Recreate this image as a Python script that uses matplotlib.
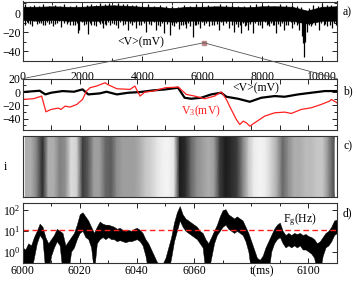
import numpy as np
import matplotlib
matplotlib.use('Agg')
import matplotlib.pyplot as plt
from matplotlib.patches import ConnectionPatch
from matplotlib.ticker import MultipleLocator, NullLocator, FixedLocator

plt.rcParams['font.family'] = 'Liberation Serif'
plt.rcParams['mathtext.fontset'] = 'custom'
plt.rcParams['mathtext.rm'] = 'Liberation Serif'
plt.rcParams['mathtext.it'] = 'Liberation Serif:italic'
plt.rcParams['font.size'] = 8.5

# ---- panel a: mean voltage <V>, whole run (solid band + spikes)
a_t = [0, 500, 1000, 1500, 2000, 2500, 3000, 3500, 4000, 4500, 5000,
       5500, 6000, 6500, 7000, 7500, 8000, 8500, 9000, 9500, 10000, 10500]
a_up = [6.5, 6.5, 7, 6.5, 6.5, 7.5, 8, 7.5, 6.5, 6.5, 5, 6.5, 6.5, 7, 6.5,
        6, 7, 7, 6.5, 2.5, 6.5, 7]
a_lo = [-7, -8, -7, -8, -8, -8, -7, -8, -8, -8, -9, -8, -8, -8, -8, -9,
        -8, -8, -8, -11, -8, -8]
a_dn_t = [83, 200, 305, 470, 620, 750, 900, 1026, 1150, 1300, 1470, 1600,
          1750, 1860, 1900, 2050, 2190, 2300, 2470, 2600, 2690, 2800, 2910,
          3050, 3190, 3350, 3520, 3650, 3800, 3950, 4130, 4300, 4470, 4600,
          4740, 4910, 5050, 5240, 5350, 5460, 5600, 5690, 5800, 5910, 6050,
          6240, 6400, 6570, 6700, 6910, 7070, 7200, 7300, 7420, 7520, 7680,
          7850, 8010, 8150, 8240, 8350, 8460, 8600, 8740, 8880, 9010, 9150,
          9240, 9330, 9370, 9400, 9430, 9500, 9620, 9750, 9900, 10050, 10180,
          10340, 10450]
a_dn_v = [-12.6, -10, -14, -11, -10, -12.6, -11, -13.7, -10, -15, -11, -12,
          -13, -21, -18, -12, -22, -13, -14, -11, -16, -12, -12,
          -11, -16, -13, -18, -12, -16, -12, -19.5, -13, -18, -14,
          -21, -23, -14, -17, -13, -16, -14, -25, -13, -16, -12,
          -14, -12, -18, -13, -16, -19.5, -15, -21, -14, -18, -21,
          -13, -16, -12, -14, -13, -21, -14, -18, -13, -16, -12,
          -18, -24, -31, -46, -30, -20, -14, -13, -18, -12, -14,
          -16, -12]
a_dn2_t = [140, 250, 380, 540, 680, 820, 960, 1090, 1230, 1380, 1530, 1680,
           1810, 1980, 2120, 2240, 2380, 2540, 2650, 2750, 2860, 2980, 3120,
           3270, 3430, 3590, 3720, 3880, 4040, 4210, 4380, 4530, 4670, 4820,
           4980, 5140, 5300, 5410, 5530, 5750, 5860, 5980, 6140, 6320, 6480,
           6640, 6800, 6980, 7130, 7250, 7360, 7470, 7600, 7760, 7930, 8080,
           8200, 8300, 8410, 8530, 8670, 8810, 8950, 9080, 9200, 9560, 9680,
           9820, 9970, 10110, 10260, 10400]
a_dn2_v = [-9, -11, -8, -10, -12, -9, -10, -11, -8, -10, -9, -12, -10, -9,
           -11, -10, -12, -9, -10, -11, -9, -10, -12, -9, -11, -10, -9,
           -12, -10, -11, -9, -12, -10, -11, -13, -10, -12, -11, -10, -12,
           -11, -9, -10, -12, -11, -9, -10, -12, -11, -13, -10, -12, -11,
           -10, -12, -9, -11, -10, -12, -11, -10, -12, -9, -11, -10, -12,
           -11, -9, -10, -11, -12, -10]
a_up_t = [100, 250, 400, 550, 700, 900, 1100, 1250, 1400, 1600, 1800, 2000,
          2150, 2300, 2450, 2600, 2750, 2900, 3050, 3200, 3350, 3500, 3650,
          3800, 4000, 4200, 4400, 4600, 4800, 5000, 5200, 5400, 5600, 5800,
          6000, 6200, 6400, 6600, 6800, 7000, 7200, 7400, 7600, 7800, 8000,
          8200, 8400, 8600, 8800, 9000, 9150, 9300, 9550, 9700, 9850, 10000,
          10150, 10300, 10450]
a_up_v = [9, 7, 8, 7, 9, 7, 8, 7, 9, 7, 8, 7, 8, 9, 8, 10, 9, 10, 8, 10, 9,
          9, 8, 8, 7, 9, 7, 8, 7, 7, 6, 8, 7, 9, 8, 8, 7, 9, 8, 8, 7, 7, 8, 9,
          8, 8, 7, 9, 8, 8, 7, 6, 5, 8, 7, 9, 8, 8, 7]

# ---- panel b: zoom 6000-6110 ms, <V> and V3
b_t = [6000, 6006, 6008, 6010, 6014, 6018, 6021, 6023, 6027, 6029.4, 6033,
       6037, 6041, 6045.7, 6050, 6054.4, 6056.7, 6059, 6062.5, 6066, 6069.5,
       6071.3, 6075.4, 6079.5, 6083.5, 6088.2, 6091.7, 6096.4, 6101, 6105.7,
       6110]
b_mean = [0, 2, -3.5, -1, 1.5, 0.5, 4, -3.5, -2, 0.5, -3.5, -1, 0, 2.5, 4,
          6.5, -8.5, -10, -8.5, -3.5, -1, -7, -10, -14.5, -8.5, -6, -7, -3.5,
          -1, 1.5, 1.5]
v3_t = [6000, 6003.8, 6006.7, 6008.2, 6010, 6012.5, 6013.5, 6014.9, 6016.6,
        6019, 6021, 6022.4, 6023.6, 6025.9, 6028.9, 6029.7, 6033, 6037.6,
        6039.3, 6041.1, 6042.8, 6045.7, 6050, 6054.5, 6057.3, 6060.2, 6063.7,
        6067.2, 6069, 6069.6, 6071.3, 6073, 6074.8, 6076, 6077.2, 6078.3,
        6079.5, 6081.2, 6084.7, 6088.2, 6091.7, 6094, 6097.5, 6101, 6104.5,
        6107.4, 6108, 6110]
v3 = [-11, -10, -6, -29.5, -26, -24, -26, -21, -22.5, -18.5, -11, 1.5, 6.5,
      9, 14, 11.5, 5, 4, 9, -6, 0, 1.5, 6.5, 7.5, -3.5, -6, -10, -6, -1, 0,
      -11, -26, -41, -48.5, -43.5, -46, -51, -46, -36, -31, -30, -32, -26,
      -23.5, -18.5, -13.5, -11, -16]

# ---- panel c: raster density (fraction of black), 2 ms bin centres
c_t = list(range(6001, 6110, 2))
c_dens = [0.45, 0.45, 0.6, 0.9, 0.45, 0.45, 0.6, 0.55, 0.25, 0.3, 0.85, 0.75,
          0.5, 0.5, 0.7, 0.75, 0.55, 0.5, 0.5, 0.5, 0.45, 0.35, 0.3, 0.2,
          0.12, 0.1, 0.2, 0.95, 0.9, 0.7, 0.55, 0.5, 0.45, 0.5, 0.85, 0.95,
          0.9, 0.85, 0.6, 0.35, 0.15, 0.1, 0.15, 0.3, 0.45, 0.7, 0.55, 0.45,
          0.45, 0.4, 0.4, 0.35, 0.35, 0.55, 0.8]

# ---- panel d: global rate F_g, log10(Hz) envelope of noisy trace, 1 ms
d_t = list(range(6000, 6111))
d_up_log = [0.2, 0.1, 0.4, 0.3, 0.7, 1.0, 1.35, 1.2, 0.7, 0.4,
            0.6, 0.8, 1.1, 1.0, 0.9, 0.3, 0.5, 0.7, 0.9, 1.3,
            1.8, 1.9, 1.7, 1.5, 1.2, 0.9, 1.2, 1.45, 1.35, 1.3,
            1.3, 1.25, 1.2, 1.1, 1.15, 1.05, 1.0, 1.05, 1.0, 1.1,
            1.15, 1.05, 0.9, 0.6, 0.4, 0.1, -0.2, -0.5, -0.6, -0.6,
            -0.3, 0.2, 0.7, 1.4, 1.9, 2.2, 1.8, 1.6, 1.5, 1.4,
            1.3, 1.2, 1.0, 0.9, 0.6, 0.4, 0.7, 1.0, 1.3, 1.7,
            2.0, 2.05, 1.8, 1.7, 1.6, 1.7, 1.6, 1.5, 1.2, 0.9,
            0.5, 0.1, -0.3, -0.4, -0.2, 0.2, 0.5, 0.8, 1.1, 1.3,
            1.4, 1.0, 0.8, 0.9, 0.8, 0.9, 0.85, 0.9, 0.8, 0.85,
            0.75, 0.7, 0.6, 0.4, 0.5, 0.7, 0.9, 1.0, 1.2, 1.5,
            1.55]
d_lo_log = [-1, -1, -1, -1, -0.3, 0.4, 0.8, 0.6, -1, -1,
            -0.2, 0.2, 0.5, 0.3, -1, -1, -1, 0.0, 0.2, 0.6,
            0.9, 1.0, 0.7, 0.6, 0.2, -1, 0.4, 0.6, 0.7, 0.6,
            0.7, 0.6, 0.6, 0.5, 0.55, 0.5, 0.45, 0.5, 0.5, 0.55,
            0.6, 0.5, 0.3, -0.2, -1, -1, -1, -1, -1, -1,
            -1, -1, -0.3, 0.5, 1.0, 1.5, 1.2, 1.0, 0.9, 0.8,
            0.7, 0.6, 0.4, 0.2, -1, -1, -0.3, 0.4, 0.8, 1.0,
            1.2, 1.3, 1.1, 1.0, 0.9, 1.0, 0.9, 0.8, 0.5, 0.0,
            -1, -1, -1, -1, -1, -1, -1, 0.0, 0.4, 0.6,
            0.7, 0.4, 0.2, 0.3, 0.2, 0.3, 0.2, 0.3, 0.1, 0.1,
            0.0, -0.1, -0.3, -1, -1, -0.2, 0.2, 0.3, 0.5, 0.8,
            0.9]
f_thresh = 11

W, H = 357, 282
fig = plt.figure(figsize=(W / 100, H / 100), dpi=100)

def box(top, bottom):
    return [22.5 / W, 1 - bottom / H, 314.5 / W, (bottom - top) / H]

def style(ax):
    ax.tick_params(which='both', direction='in', top=True, right=True,
                   width=0.6, pad=1.5, labelsize=8.5)
    ax.tick_params(which='major', length=3.5)
    ax.tick_params(which='minor', length=2)
    for s in ax.spines.values():
        s.set_linewidth(0.8)
        s.set_color('#333333')

ax_a = fig.add_axes(box(1.5, 61))
ax_b = fig.add_axes(box(78.7, 129.5))
ax_c = fig.add_axes(box(136, 197))
ax_d = fig.add_axes(box(202.7, 263))

# a)
ax_a.fill_between(a_t, a_lo, a_up, color='k', lw=0.5)
ax_a.vlines(a_dn_t, 0, a_dn_v, color='k', lw=0.9)
ax_a.vlines(a_dn2_t, 0, a_dn2_v, color='k', lw=0.9)
ax_a.vlines(a_up_t, 0, a_up_v, color='k', lw=0.9)
ax_a.plot([6055], [-31], 's', ms=3, color='#c08888')
ax_a.set_xlim(0, 10500)
ax_a.set_ylim(-50, 12)
ax_a.xaxis.set_major_locator(MultipleLocator(2000))
ax_a.xaxis.set_minor_locator(MultipleLocator(1000))
ax_a.yaxis.set_major_locator(MultipleLocator(20))
ax_a.yaxis.set_minor_locator(MultipleLocator(10))
style(ax_a)
ax_a.tick_params(axis='x', which='major', pad=7)
ax_a.text(3950, -31, '<V>(mV)', ha='center', va='center', fontsize=8.5)

# b)
ax_b.plot(b_t, b_mean, color='k', lw=1.6)
ax_b.plot(v3_t, v3, color='#ff2020', lw=0.9)
ax_b.set_xlim(6000, 6110)
ax_b.set_ylim(-56, 20)
ax_b.xaxis.set_major_locator(MultipleLocator(10))
ax_b.yaxis.set_major_locator(MultipleLocator(20))
ax_b.yaxis.set_minor_locator(MultipleLocator(10))
style(ax_b)
ax_b.tick_params(axis='x', labelbottom=False)
ax_b.text(6081.5, 6, '<V>(mV)', ha='center', va='center', fontsize=8.5)
ax_b.text(6062.4, -28.5, 'V$_3$(mV)', ha='center', va='center',
          fontsize=8.5, color='#ff2020')

# c)
ax_c.pcolormesh(c_t, [0, 1], [c_dens, c_dens], cmap='Greys', vmin=0,
                vmax=1.05, shading='gouraud')
ax_c.set_xlim(6000, 6110)
ax_c.set_ylim(0, 1)
ax_c.set_xticks([])
ax_c.set_yticks([])
for s in ax_c.spines.values():
    s.set_linewidth(0.8)
    s.set_color('#333333')

# d)
d_up = 10 ** np.array(d_up_log)
d_lo = 10 ** np.array(d_lo_log)
ax_d.fill_between(d_t, d_lo, d_up, color='k', lw=0.3)
ax_d.axhline(f_thresh, color='#ff2020', lw=1.0, dashes=(4, 2.5))
ax_d.set_yscale('log')
ax_d.set_xlim(6000, 6110)
ax_d.set_ylim(0.28, 230)
ax_d.yaxis.set_major_locator(FixedLocator([1, 10, 100]))
ax_d.yaxis.set_minor_locator(NullLocator())
ax_d.xaxis.set_minor_locator(MultipleLocator(10))
ax_d.set_xticks([6000, 6020, 6040, 6060, 6100])
style(ax_d)
ax_d.text(6097, 33, 'F$_\\mathrm{g}$(Hz)', ha='center', va='center',
          fontsize=8.5)

# zoom lines from a) to b)
for xb in (6000, 6110):
    con = ConnectionPatch(xyA=(6055, -31), coordsA='data', axesA=ax_a,
                          xyB=(xb, 20), coordsB='data', axesB=ax_b,
                          color='#555555', lw=0.6)
    fig.add_artist(con)

for lab, y in (('a)', 12), ('b)', 91), ('c)', 146), ('d)', 213)):
    fig.text(343 / W, 1 - y / H, lab, ha='left', va='center', fontsize=8.5)
fig.text(5 / W, 1 - 167 / H, 'i', ha='center', va='center', fontsize=8.5)
fig.text(262 / W, 1 - 271 / H, 't(ms)', ha='center', va='center',
         fontsize=8.5)

fig.savefig('out.png', dpi=100)
